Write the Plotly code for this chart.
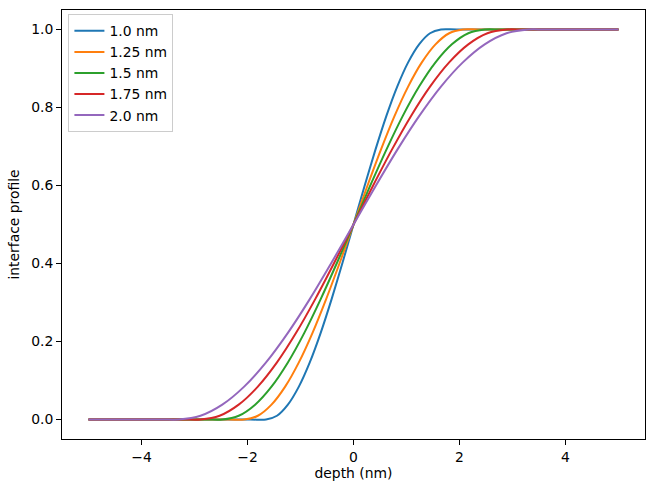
import plotly.graph_objects as go

# Interface profiles (depth in nm, profile 0..1)
labels = ["1.0 nm", "1.25 nm", "1.5 nm", "1.75 nm", "2.0 nm"]
colors = ["#1f77b4", "#ff7f0e", "#2ca02c", "#d62728", "#9467bd"]

profile_y = [0.0, 0.0, 0.0, 0.0096, 0.0381, 0.0843, 0.1464, 0.2222, 0.3087, 0.4025,
             0.5, 0.5975, 0.6913, 0.7778, 0.8536, 0.9157, 0.9619, 0.9904, 1.0, 1.0, 1.0]

x_10 = [-5.0, -1.95, -1.65, -1.444, -1.238, -1.031, -0.825, -0.619, -0.413, -0.206,
        0.0, 0.206, 0.413, 0.619, 0.825, 1.031, 1.238, 1.444, 1.65, 1.95, 5.0]
x_125 = [-5.0, -2.36, -2.063, -1.805, -1.547, -1.289, -1.031, -0.773, -0.516, -0.258,
         0.0, 0.258, 0.516, 0.773, 1.031, 1.289, 1.547, 1.805, 2.063, 2.36, 5.0]
x_15 = [-5.0, -2.78, -2.475, -2.166, -1.856, -1.547, -1.238, -0.928, -0.619, -0.309,
        0.0, 0.309, 0.619, 0.928, 1.238, 1.547, 1.856, 2.166, 2.475, 2.78, 5.0]
x_175 = [-5.0, -3.19, -2.888, -2.527, -2.166, -1.805, -1.444, -1.083, -0.722, -0.361,
         0.0, 0.361, 0.722, 1.083, 1.444, 1.805, 2.166, 2.527, 2.888, 3.19, 5.0]
x_20 = [-5.0, -3.6, -3.3, -2.888, -2.475, -2.063, -1.65, -1.238, -0.825, -0.413,
        0.0, 0.413, 0.825, 1.238, 1.65, 2.063, 2.475, 2.888, 3.3, 3.6, 5.0]

xs = [x_10, x_125, x_15, x_175, x_20]

x_ticks = [-4, -2, 0, 2, 4]
x_ticktext = ["\u22124", "\u22122", "0", "2", "4"]
y_ticks = [0.0, 0.2, 0.4, 0.6, 0.8, 1.0]
y_ticktext = ["0.0", "0.2", "0.4", "0.6", "0.8", "1.0"]

FONT = "DejaVu Sans"
FS = 13.9

fig = go.Figure()
for lab, col, xv in zip(labels, colors, xs):
    fig.add_trace(go.Scatter(
        x=xv, y=profile_y, mode="lines", name=lab,
        line=dict(color=col, width=2, shape="spline", smoothing=0.8),
    ))

axis_common = dict(
    showline=True, linecolor="black", linewidth=1, mirror=True,
    ticks="outside", ticklen=5, tickwidth=1, tickcolor="black",
    showgrid=False, zeroline=False,
    tickfont=dict(family=FONT, size=FS, color="black"),
)

fig.update_layout(
    width=651, height=491,
    margin=dict(l=62, r=6, t=10, b=52),
    paper_bgcolor="white", plot_bgcolor="white",
    font=dict(family=FONT, size=FS, color="black"),
    xaxis=dict(range=[-5.5, 5.5], tickvals=x_ticks, ticktext=x_ticktext,
               title=dict(text="depth (nm)", font=dict(family=FONT, size=FS), standoff=0),
               **axis_common),
    yaxis=dict(range=[-0.05, 1.05], tickvals=y_ticks, ticktext=y_ticktext,
               title=dict(text="interface profile", font=dict(family=FONT, size=FS), standoff=8),
               **axis_common),
    legend=dict(x=0.011, y=0.99, xanchor="left", yanchor="top",
                bordercolor="#cccccc", borderwidth=1, bgcolor="rgba(255,255,255,0.8)",
                font=dict(family=FONT, size=FS), tracegroupgap=0),
    showlegend=True,
)

fig.write_html("out.html")
